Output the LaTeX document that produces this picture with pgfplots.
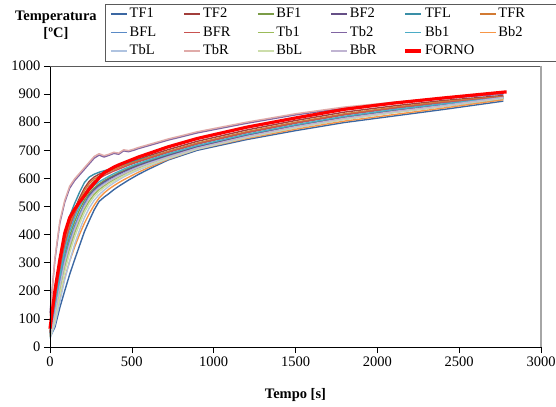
\documentclass[border=0pt]{standalone}
\usepackage{fontspec}
\setmainfont{Liberation Serif}
\usepackage{pgfplots}
\usepackage{pgfplotstable}
\pgfplotsset{compat=1.18}

\definecolor{cTFa}{HTML}{3B67A2}
\definecolor{cTFb}{HTML}{A23E3B}
\definecolor{cBFa}{HTML}{7B9C47}
\definecolor{cBFb}{HTML}{654F86}
\definecolor{cTFL}{HTML}{3A8FA7}
\definecolor{cTFR}{HTML}{D27A33}
\definecolor{cBFL}{HTML}{5A8AC6}
\definecolor{cBFR}{HTML}{C85250}
\definecolor{cTba}{HTML}{9BBB59}
\definecolor{cTbb}{HTML}{8064A2}
\definecolor{cBba}{HTML}{4BACC6}
\definecolor{cBbb}{HTML}{F79646}
\definecolor{cTbL}{HTML}{AFC3E0}
\definecolor{cTbR}{HTML}{E0ABA9}
\definecolor{cBbL}{HTML}{CCDDAA}
\definecolor{cBbR}{HTML}{C0B4D2}
\definecolor{cForno}{HTML}{FF0000}
\definecolor{framegray}{HTML}{5A5A5A}

\pgfplotstableread{
t    TFa TFb BFa BFb TFL TFR BFL BFR Tba Tbb Bba Bbb TbL TbR BbL BbR
0    35  55  45  50  50  50  40  50  40  120 45  40  30  110 35  40
30   70  160 130 140 170 150 120 150 105 310 135 90  80  315 95  115
60   140 290 240 230 300 275 225 265 200 440 250 175 160 448 185 215
90   200 385 330 300 400 370 315 360 285 515 345 245 240 522 268 300
120  258 445 395 360 465 435 380 425 350 565 410 305 305 572 335 365
150  310 490 445 420 510 482 430 472 405 592 460 355 365 598 390 418
180  360 530 488 470 550 522 472 510 450 612 500 400 415 618 437 462
210  410 565 522 510 585 556 508 545 490 632 533 440 460 638 478 500
240  450 590 548 540 605 582 535 572 520 652 558 475 495 658 510 530
270  488 605 566 560 615 598 555 590 543 672 575 505 522 678 535 552
300  518 615 580 575 622 608 570 600 560 683 588 530 542 688 553 567
330  533 622 592 587 627 616 582 610 573 676 598 548 558 681 567 579
360  546 628 602 598 632 624 592 618 585 682 608 562 572 686 580 590
390  560 636 611 607 638 631 601 626 595 689 617 574 584 693 590 600
420  572 643 620 616 645 638 610 633 604 686 625 585 595 690 600 609
450  583 650 628 624 650 645 618 640 613 698 633 595 605 702 609 617
480  594 656 636 632 655 651 626 647 621 695 640 604 614 699 618 625
510  604 662 643 639 660 657 634 653 629 700 647 613 622 704 626 633
540  614 668 650 646 665 662 641 659 636 706 653 622 630 710 633 640
600  632 680 662 658 675 674 654 670 650 716 665 638 644 720 647 653
720  665 702 684 681 695 696 677 692 674 736 687 668 670 740 672 676
900  700 732 714 712 724 726 708 722 706 762 717 704 704 766 705 708
1200 738 772 754 752 764 766 748 762 746 796 757 742 745 800 746 749
1500 770 806 788 786 798 800 782 796 781 826 791 775 780 830 781 784
1800 799 836 818 816 828 830 812 826 811 850 821 804 810 854 811 814
2100 822 858 842 840 851 853 836 849 835 868 845 827 834 871 835 838
2400 845 877 862 861 871 873 857 869 856 884 865 850 856 887 857 859
2770 875 895 885 886 891 892 884 890 884 900 888 880 885 903 886 888
}\sensors

\pgfplotstableread{
t    T
0    65
30   200
60   310
90   405
120  460
150  490
180  515
210  538
240  562
270  582
300  602
330  620
360  630
390  640
420  648
450  655
480  662
510  669
540  676
600  688
720  712
900  742
1200 782
1500 815
1800 846
2100 868
2400 886
2790 908
}\forno

\newcommand{\lgent}[1]{\makebox[52bp][l]{#1}}

\begin{document}
\begin{tikzpicture}[font=\fontsize{14.5bp}{17bp}\selectfont]
\begin{axis}[
  name=ax,
  scale only axis,
  width=491bp, height=281bp,
  xmin=0, xmax=3000, ymin=0, ymax=1000,
  xtick={0,500,...,3000},
  ytick={0,100,...,1000},
  xtick pos=left, ytick pos=left,
  tick align=outside,
  major tick length=6bp,
  tick style={black, line width=0.6bp},
  axis line style={draw=none},
  /pgf/number format/assume math mode=true,
  /pgf/number format/1000 sep={},
  xticklabel={\pgfmathprintnumber[assume math mode=true,1000 sep={}]{\tick}},
  yticklabel={\pgfmathprintnumber[assume math mode=true,1000 sep={}]{\tick}},
  ticklabel style={font=\rmfamily\fontsize{14.5bp}{17bp}\selectfont},
  clip=false,
  every axis plot/.append style={line width=1.4bp, line join=round},
  legend columns=6,
  legend image code/.code={\draw[#1] (0bp,0bp) -- (16bp,0bp);},
  legend style={
    at={(0.112,1.2206)}, anchor=north west,
    draw=framegray, line width=0.6bp,
    inner xsep=5bp, inner ysep=0.5bp,
    row sep=0pt, column sep=0pt,
    font=\fontsize{14.5bp}{17bp}\selectfont,
    nodes={inner xsep=2bp, inner ysep=2.5bp, text height=10.5bp, text depth=3bp},
  },
  legend cell align=left,
]
\addplot[cTFa] table[x=t,y=TFa]{\sensors}; \addlegendentry{\lgent{TF1}}
\addplot[cTFb] table[x=t,y=TFb]{\sensors}; \addlegendentry{\lgent{TF2}}
\addplot[cBFa] table[x=t,y=BFa]{\sensors}; \addlegendentry{\lgent{BF1}}
\addplot[cBFb] table[x=t,y=BFb]{\sensors}; \addlegendentry{\lgent{BF2}}
\addplot[cTFL] table[x=t,y=TFL]{\sensors}; \addlegendentry{\lgent{TFL}}
\addplot[cTFR] table[x=t,y=TFR]{\sensors}; \addlegendentry{\lgent{TFR}}
\addplot[cBFL] table[x=t,y=BFL]{\sensors}; \addlegendentry{\lgent{BFL}}
\addplot[cBFR] table[x=t,y=BFR]{\sensors}; \addlegendentry{\lgent{BFR}}
\addplot[cTba] table[x=t,y=Tba]{\sensors}; \addlegendentry{\lgent{Tb1}}
\addplot[cTbb] table[x=t,y=Tbb]{\sensors}; \addlegendentry{\lgent{Tb2}}
\addplot[cBba] table[x=t,y=Bba]{\sensors}; \addlegendentry{\lgent{Bb1}}
\addplot[cBbb] table[x=t,y=Bbb]{\sensors}; \addlegendentry{\lgent{Bb2}}
\addplot[cTbL] table[x=t,y=TbL]{\sensors}; \addlegendentry{\lgent{TbL}}
\addplot[cTbR] table[x=t,y=TbR]{\sensors}; \addlegendentry{\lgent{TbR}}
\addplot[cBbL] table[x=t,y=BbL]{\sensors}; \addlegendentry{\lgent{BbL}}
\addplot[cBbR] table[x=t,y=BbR]{\sensors}; \addlegendentry{\lgent{BbR}}
\addplot[cForno, line width=3.2bp] table[x=t,y=T]{\forno}; \addlegendentry{\lgent{FORNO}}

\draw[black, line width=0.8bp] (rel axis cs:0,1) -- (rel axis cs:0,0) -- (rel axis cs:1,0);
\draw[framegray, line width=0.6bp] (rel axis cs:0,1) -- (rel axis cs:1,1);
\draw[gray!70, line width=2bp] (rel axis cs:1,1) -- (rel axis cs:1,0);
\node[font=\bfseries\fontsize{14.5bp}{17bp}\selectfont, align=center] at (axis description cs:0.012,1.146) {Temperatura\\{[ºC]}};
\node[font=\bfseries\fontsize{14.5bp}{17bp}\selectfont] at (axis description cs:0.5,-0.171) {Tempo [s]};
\end{axis}
\pgfresetboundingbox
\useasboundingbox ([xshift=-50bp,yshift=-60bp]ax.south west) rectangle ([xshift=15bp,yshift=66bp]ax.north east);
\end{tikzpicture}
\end{document}
